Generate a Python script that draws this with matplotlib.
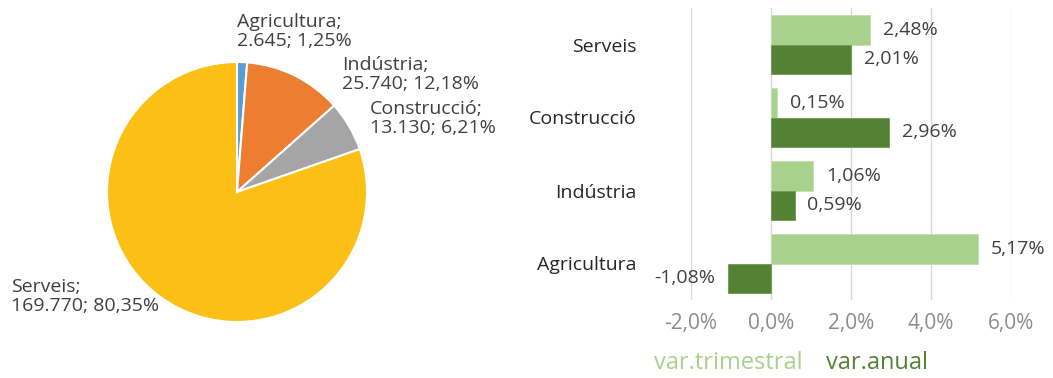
import matplotlib
matplotlib.use("Agg")
import matplotlib.pyplot as plt

plt.rcParams['font.family'] = ['Open Sans', 'DejaVu Sans']

# Employment by sector (pie)
sectors = ["Agricultura", "Indústria", "Construcció", "Serveis"]
workers = [2645, 25740, 13130, 169770]
pie_colors = ["#5B9BD5", "#ED7D31", "#A5A5A5", "#FBBF16"]

# Variation by sector (bars), listed bottom to top
bar_categories = ["Agricultura", "Indústria", "Construcció", "Serveis"]
var_trimestral = [5.17, 1.06, 0.15, 2.48]
var_anual = [-1.08, 0.59, 2.96, 2.01]
x_ticks = [-2.0, 0.0, 2.0, 4.0, 6.0]

light_green = "#A9D18E"
dark_green = "#548235"
text_color = "#404040"

W, H = 1053, 378
fig = plt.figure(figsize=(W / 100, H / 100), dpi=100)


def fmt_thousands(v):
    return f"{v:,}".replace(",", ".")


def fmt_pct(v, nd=2):
    return f"{v:.{nd}f}".replace(".", ",") + "%"


# ---- pie ----
cx, cy, r = 237, 192, 130
pax = fig.add_axes([(cx - r) / W, (H - cy - r) / H, 2 * r / W, 2 * r / H])
pax.pie(workers, colors=pie_colors, startangle=90, counterclock=False,
        radius=1.0, wedgeprops=dict(edgecolor="white", linewidth=1.5))
pax.set_xlim(-1, 1)
pax.set_ylim(-1, 1)
pax.set_aspect("equal")
pax.axis("off")

total = sum(workers)
label_pos = {
    "Agricultura": (237, 13),
    "Indústria": (342, 56),
    "Construcció": (370, 100),
    "Serveis": (11, 278),
}
for name, val in zip(sectors, workers):
    px, py = label_pos[name]
    txt = f"{name};\n{fmt_thousands(val)}; {fmt_pct(100 * val / total)}"
    fig.text(px / W, 1 - py / H, txt, ha="left", va="top", fontsize=14,
             color=text_color, linespacing=1.08)

# ---- bars ----
bax = fig.add_axes([691 / W, (H - 300) / H, 320 / W, 292 / H])
ys = list(range(len(bar_categories)))
h = 0.4
bax.barh([y + h / 2 for y in ys], var_trimestral, height=h, color=light_green,
         edgecolor="#C5E0B4", linewidth=0.6, zorder=3)
bax.barh([y - h / 2 for y in ys], var_anual, height=h, color=dark_green,
         edgecolor="#6E9A50", linewidth=0.6, zorder=3)
bax.set_xlim(-2.0, 6.0)
bax.set_ylim(-0.5, len(bar_categories) - 0.5)
bax.set_xticks(x_ticks)
bax.set_xticklabels([fmt_pct(t, 1) for t in x_ticks], color="#8C8C8C", fontsize=15)
bax.set_yticks(ys)
bax.set_yticklabels(bar_categories, fontsize=14, color="#262626")
bax.tick_params(axis="both", length=0)
bax.tick_params(axis="x", pad=9)
bax.tick_params(axis="y", pad=39)
for s in bax.spines.values():
    s.set_visible(False)
bax.grid(axis="x", color="#D9D9D9", linewidth=1, zorder=0)
bax.set_axisbelow(True)

off = 0.32
for y, v in zip(ys, var_trimestral):
    bax.text(v + off if v >= 0 else v - off, y + h / 2, fmt_pct(v),
             ha="left" if v >= 0 else "right", va="center", fontsize=14,
             color=text_color)
for y, v in zip(ys, var_anual):
    bax.text(v + off if v >= 0 else v - off, y - h / 2, fmt_pct(v),
             ha="left" if v >= 0 else "right", va="center", fontsize=14,
             color=text_color)

# legend as coloured text
fig.text(654 / W, 1 - 363 / H, "var.trimestral", color=light_green,
         fontsize=17, ha="left", va="center")
fig.text(826 / W, 1 - 363 / H, "var.anual", color=dark_green,
         fontsize=17, ha="left", va="center")

fig.savefig("out.png", dpi=100, facecolor="white")
